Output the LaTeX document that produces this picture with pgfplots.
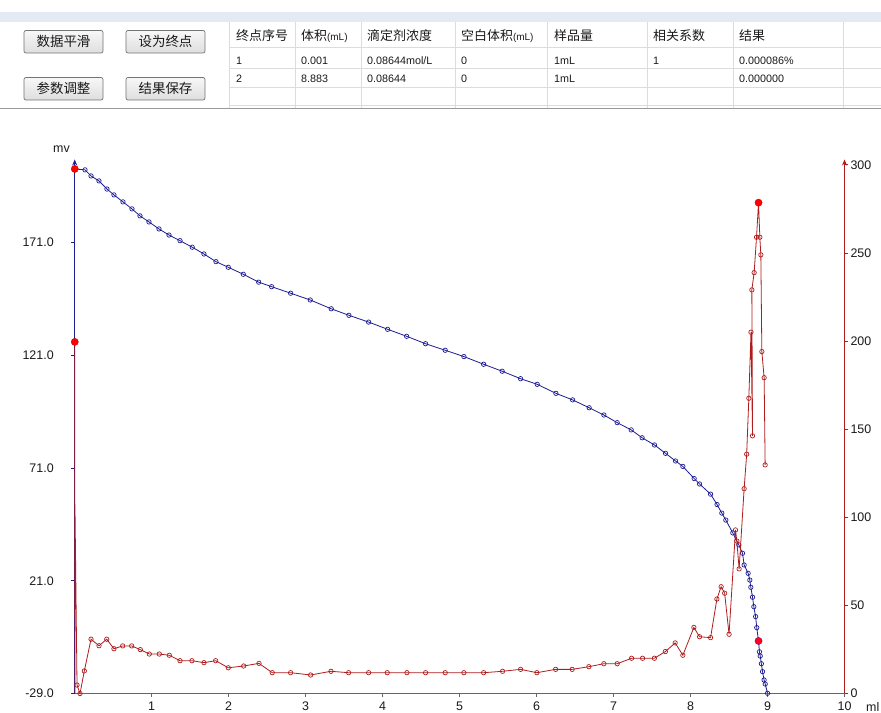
\documentclass[border=0pt]{standalone}
\usepackage{pgfplots}
\pgfplotsset{compat=1.18}
\usetikzlibrary{arrows.meta}
\usepackage{fontspec}
\setmainfont{Liberation Sans}
\newfontfamily\cjk{Noto Sans CJK SC}
\definecolor{bluec}{HTML}{1C1C94}
\definecolor{redc}{HTML}{B01C1C}
\definecolor{topband}{HTML}{E4EAF3}
\definecolor{gridc}{HTML}{DCDCDC}
\definecolor{txt}{HTML}{1A1A1A}

\pgfplotstableread{
x y
0.001 203.6
0.134 203.2
0.212 200.5
0.315 198.3
0.419 194.7
0.510 192.1
0.627 189.0
0.744 185.9
0.848 182.8
0.965 180.1
1.095 177.0
1.225 174.3
1.368 171.8
1.527 168.9
1.679 165.9
1.835 162.5
1.995 160.0
2.190 156.9
2.390 153.4
2.558 151.4
2.805 148.5
3.060 145.5
3.332 141.6
3.562 138.7
3.818 135.7
4.065 132.5
4.312 129.4
4.558 126.1
4.813 123.2
5.056 120.4
5.312 117.0
5.553 113.9
5.792 110.6
6.008 108.1
6.251 104.1
6.468 101.2
6.683 97.7
6.874 94.5
7.047 91.1
7.229 87.9
7.371 84.4
7.532 81.2
7.675 77.5
7.805 74.1
7.900 71.7
8.047 66.3
8.117 63.9
8.260 59.4
8.344 54.8
8.406 51.0
8.458 47.9
8.549 42.2
8.627 36.9
8.675 33.2
8.696 28.0
8.748 24.3
8.770 21.3
8.783 18.1
8.805 13.7
8.822 9.5
8.845 5.1
8.860 0.2
8.883 -5.7
8.895 -10.5
8.905 -12.4
8.920 -15.8
8.935 -19.3
8.955 -23.0
8.970 -24.8
9.000 -28.9
}\bluedata

\pgfplotstableread{
x y
0.001 199.5
0.003 0
0.005 101
0.030 4.8
0.069 0
0.125 12.8
0.212 30.8
0.316 27.1
0.416 30.8
0.510 25.4
0.623 27.0
0.740 27.0
0.852 24.9
0.969 22.4
1.099 22.4
1.229 21.7
1.368 18.6
1.523 18.6
1.679 17.5
1.831 18.6
1.995 14.6
2.195 15.6
2.394 17.1
2.566 11.8
2.805 11.8
3.065 10.5
3.329 12.6
3.558 11.8
3.818 11.8
4.060 11.8
4.316 11.8
4.558 11.8
4.813 11.8
5.056 11.8
5.312 11.8
5.558 12.6
5.792 13.7
6.004 11.8
6.247 13.7
6.462 13.7
6.679 15.2
6.874 16.9
7.047 16.9
7.234 20.0
7.377 20.0
7.530 20.0
7.673 23.8
7.800 28.7
7.900 21.7
8.043 37.5
8.117 32.2
8.260 31.7
8.342 53.6
8.397 60.6
8.443 56.9
8.500 33.6
8.584 92.8
8.601 86.5
8.631 70.7
8.696 116.2
8.729 135.8
8.757 167.5
8.785 205.0
8.805 146.2
8.796 229.0
8.826 238.8
8.857 258.9
8.883 278.5
8.900 258.9
8.913 248.9
8.926 194.0
8.956 179.2
8.969 129.7
}\reddata

\begin{document}
\begin{tikzpicture}[x=1bp,y=1bp]
\path[use as bounding box] (0,0) rectangle (881,713);
\fill[white] (0,0) rectangle (881,713);
% ---------- top UI ----------
\fill[topband] (0,691.3) rectangle (881,701);
\draw[black!40, line width=0.8bp] (0,604.7) -- (881,604.7);
% buttons
\foreach \bx/\by/\bt in {24/660/数据平滑, 126/660/设为终点, 24/613/参数调整, 126/613/结果保存}{
  \shade[top color=white!97!black, bottom color=black!13, rounded corners=2bp]
     (\bx,\by) rectangle ++(79,22.5);
  \draw[black!55, line width=0.7bp, rounded corners=2bp] (\bx,\by) rectangle ++(79,22.5);
  \node[font=\cjk\fontsize{13.5}{15}\selectfont, text=txt, inner sep=0] at (\bx+39.5,\by+11.5) {\bt};
}
% table grid
\foreach \yy in {665.5,645,625.7,608}{\draw[gridc, line width=0.6bp] (229,\yy) -- (881,\yy);}
\foreach \xx in {229,295,361,455,547,647,733,843}{\draw[gridc, line width=0.6bp] (\xx,691.3) -- (\xx,605);}
% header
\begin{scope}[every node/.style={anchor=west, inner sep=0, text=txt}]
\node[font=\cjk\fontsize{13}{15}\selectfont] at (236,677) {终点序号};
\node[font=\cjk\fontsize{13}{15}\selectfont] at (301,677) {体积{\fontspec{Liberation Sans}\fontsize{10}{12}\selectfont(mL)}};
\node[font=\cjk\fontsize{13}{15}\selectfont] at (367,677) {滴定剂浓度};
\node[font=\cjk\fontsize{13}{15}\selectfont] at (461,677) {空白体积{\fontspec{Liberation Sans}\fontsize{10}{12}\selectfont(mL)}};
\node[font=\cjk\fontsize{13}{15}\selectfont] at (554,677) {样品量};
\node[font=\cjk\fontsize{13}{15}\selectfont] at (653,677) {相关系数};
\node[font=\cjk\fontsize{13}{15}\selectfont] at (739,677) {结果};
% rows
\foreach \xx/\tt in {236/1, 301/0.001, 367/{0.08644mol/L}, 461/0, 554/1mL, 653/1, 739/0.000086\%}{
  \node[font=\fontsize{10.8}{12}\selectfont] at (\xx,652) {\tt};}
\foreach \xx/\tt in {236/2, 301/8.883, 367/0.08644, 461/0, 554/1mL, 739/0.000000}{
  \node[font=\fontsize{10.8}{12}\selectfont] at (\xx,634) {\tt};}
\end{scope}

% ---------- chart ----------
\begin{axis}[
  at={(74.7bp,19.5bp)}, anchor=south west,
  scale only axis, width=769.8bp, height=534bp,
  xmin=0, xmax=10, ymin=-29, ymax=207.8,
  axis x line*=bottom, axis y line*=left,
  clip=false,
  x axis line style={draw=black!60, line width=1bp, -},
  y axis line style={draw=bluec, line width=0.9bp, -{Stealth[length=6bp,width=5bp]}},
  xtick={1,2,3,4,5,6,7,8,9,10}, xticklabels={1,2,3,4,5,6,7,8,9,10},
  ytick={-29,21,71,121,171}, yticklabels={-29.0,21.0,71.0,121.0,171.0},
  tick align=outside, major tick length=3.5bp,
  xtick style={draw=black!60, line width=0.7bp},
  ytick style={draw=bluec, line width=0.7bp},
  ticklabel style={font=\fontsize{12.5}{14}\selectfont, text=txt},
  yticklabel style={xshift=-14bp},
  xticklabel style={yshift=-1bp},
]
\addplot[bluec, line width=0.8bp, mark=o, mark size=2.2bp,
  mark options={draw=bluec, fill=bluec!12, line width=0.7bp, solid}] table[x=x,y=y]{\bluedata};
\addplot[only marks, mark=*, mark size=3.6bp, color=red, mark options={fill=red, draw=red!80!black}]
  coordinates {(0.001,203.6)};
\addplot[only marks, mark=*, mark size=3.6bp, mark options={fill=red!85!magenta, draw=bluec!60!red}]
  coordinates {(8.883,-5.7)};
\end{axis}

\begin{axis}[
  at={(74.7bp,19.5bp)}, anchor=south west,
  scale only axis, width=769.8bp, height=534bp,
  xmin=0, xmax=10, ymin=0, ymax=303,
  axis x line=none, axis y line*=right,
  clip=false,
  y axis line style={draw=redc, line width=0.9bp, -{Stealth[length=6bp,width=5bp]}},
  ytick={0,50,100,150,200,250,300}, yticklabels={0,50,100,150,200,250,300},
  xtick=\empty,
  tick align=outside, major tick length=3.5bp,
  ytick style={draw=redc, line width=0.7bp},
  ticklabel style={font=\fontsize{12.5}{14}\selectfont, text=txt},
  yticklabel style={xshift=-1bp},
]
\addplot[redc, line width=0.8bp, mark=o, mark size=2.2bp, mark phase=4, mark repeat=1,
  mark options={draw=redc, fill=redc!8, line width=0.7bp, solid}] table[x=x,y=y]{\reddata};
\addplot[only marks, mark=*, mark size=3.6bp, mark options={fill=red, draw=red!80!black}]
  coordinates {(0.001,199.5) (8.883,278.5)};
\end{axis}

\node[anchor=base west, inner sep=0, font=\fontsize{12.5}{14}\selectfont, text=txt] at (53,560.3) {mv};
\node[anchor=base west, inner sep=0, font=\fontsize{12.5}{14}\selectfont, text=txt] at (866,1.8) {ml};
\end{tikzpicture}
\end{document}
